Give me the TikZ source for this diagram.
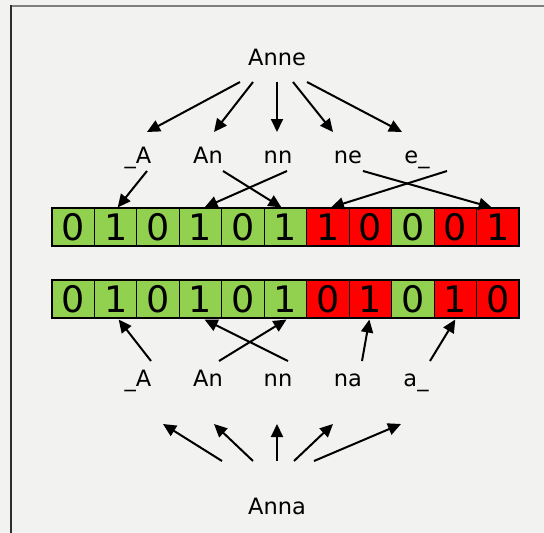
\documentclass[tikz,border=0pt]{standalone}
\usepackage{fontspec}
\setmainfont{DejaVu Sans}
\usetikzlibrary{arrows.meta}
\definecolor{bg}{HTML}{F2F2F1}
\definecolor{gbit}{HTML}{92D050}
\definecolor{rbit}{HTML}{FF0000}
\definecolor{frametop}{HTML}{808080}
\definecolor{frameleft}{HTML}{2E2E2E}
\tikzset{
  lbl/.style={inner sep=0pt, text height=16.5pt, text depth=0pt, font=\fontsize{22.5}{26}\selectfont},
  bitcell/.style={draw=black, line width=1.1pt, minimum width=42.45pt, minimum height=38pt, inner sep=0pt, text height=26.5pt, text depth=0pt, font=\fontsize{36.5}{40}\selectfont},
  arr/.style={line width=2pt, -{Triangle[length=13pt,width=12pt]}}
}
\begin{document}
\begin{tikzpicture}[x=1pt,y=-1pt]
\useasboundingbox (0,0) rectangle (544,533);
\fill[bg] (0,0) rectangle (544,533);
\draw[frametop, line width=2pt] (10,5.5) -- (544,5.5);
\draw[frameleft, line width=2pt] (10.5,5) -- (10.5,533);

% words
\node[lbl] (Anne) at (277,57) {Anne};
\node[lbl] (Anna) at (277,506) {Anna};

% top bigrams
\node[lbl] (lA1) at (138,155) {\_A};
\node[lbl] (lAn1) at (208,155) {An};
\node[lbl] (lnn1) at (278,155) {nn};
\node[lbl] (lne1) at (348,155) {ne};
\node[lbl] (le1) at (417,155) {e\_};

% bottom bigrams
\node[lbl] (lA2) at (138,378) {\_A};
\node[lbl] (lAn2) at (208,378) {An};
\node[lbl] (lnn2) at (278,378) {nn};
\node[lbl] (lna2) at (348,378) {na};
\node[lbl] (la2) at (416,378) {a\_};

% bit rows
\foreach \b/\c [count=\i from 0] in {0/gbit,1/gbit,0/gbit,1/gbit,0/gbit,1/gbit,1/rbit,0/rbit,0/gbit,0/rbit,1/rbit}
  \node[bitcell, fill=\c] (c1-\i) at ({52+42.45*(\i+0.5)},227) {\b};
\foreach \b/\c [count=\i from 0] in {0/gbit,1/gbit,0/gbit,1/gbit,0/gbit,1/gbit,0/rbit,1/rbit,0/gbit,1/rbit,0/rbit}
  \node[bitcell, fill=\c] (c2-\i) at ({52+42.45*(\i+0.5)},299) {\b};
\draw[line width=1.4pt] (c1-0.north west) rectangle (c1-10.south east);
\draw[line width=1.4pt] (c2-0.north west) rectangle (c2-10.south east);

% Anne -> bigrams
\draw[arr] ([shift={(-37,25)}]Anne.center) -- ([shift={(9,-23)}]lA1.center);
\draw[arr] ([shift={(-24,25)}]Anne.center) -- ([shift={(6,-23)}]lAn1.center);
\draw[arr] ([shift={(0,25)}]Anne.center) -- ([shift={(-1,-23)}]lnn1.center);
\draw[arr] ([shift={(16,25)}]Anne.center) -- ([shift={(-15,-23)}]lne1.center);
\draw[arr] ([shift={(30,25)}]Anne.center) -- ([shift={(-15,-23)}]le1.center);

% bigrams -> row 1
\draw[arr] ([shift={(9,16)}]lA1.center) -- ([shift={(2,0)}]c1-1.north);
\draw[arr] ([shift={(15,16)}]lAn1.center) -- ([shift={(-4,0)}]c1-5.north);
\draw[arr] ([shift={(9,16)}]lnn1.center) -- ([shift={(4,0)}]c1-3.north);
\draw[arr] ([shift={(15,16)}]lne1.center) -- ([shift={(-6,0)}]c1-10.north);
\draw[arr] ([shift={(30,16)}]le1.center) -- ([shift={(3,0)}]c1-6.north);

% bigrams -> row 2
\draw[arr] ([shift={(13,-17)}]lA2.center) -- ([shift={(3,1)}]c2-1.south);
\draw[arr] ([shift={(11,-17)}]lAn2.center) -- ([shift={(1,1)}]c2-5.south);
\draw[arr] ([shift={(10,-17)}]lnn2.center) -- ([shift={(4,1)}]c2-3.south);
\draw[arr] ([shift={(14,-17)}]lna2.center) -- ([shift={(-1,1)}]c2-7.south);
\draw[arr] ([shift={(14,-17)}]la2.center) -- ([shift={(0,1)}]c2-9.south);

% Anna -> bigrams
\draw[arr] ([shift={(-55,-45)}]Anna.center) -- ([shift={(25,46)}]lA2.center);
\draw[arr] ([shift={(-24,-45)}]Anna.center) -- ([shift={(6,46)}]lAn2.center);
\draw[arr] ([shift={(0,-45)}]Anna.center) -- ([shift={(-1,46)}]lnn2.center);
\draw[arr] ([shift={(17,-45)}]Anna.center) -- ([shift={(-15,46)}]lna2.center);
\draw[arr] ([shift={(37,-45)}]Anna.center) -- ([shift={(-15,46)}]la2.center);
\end{tikzpicture}
\end{document}
